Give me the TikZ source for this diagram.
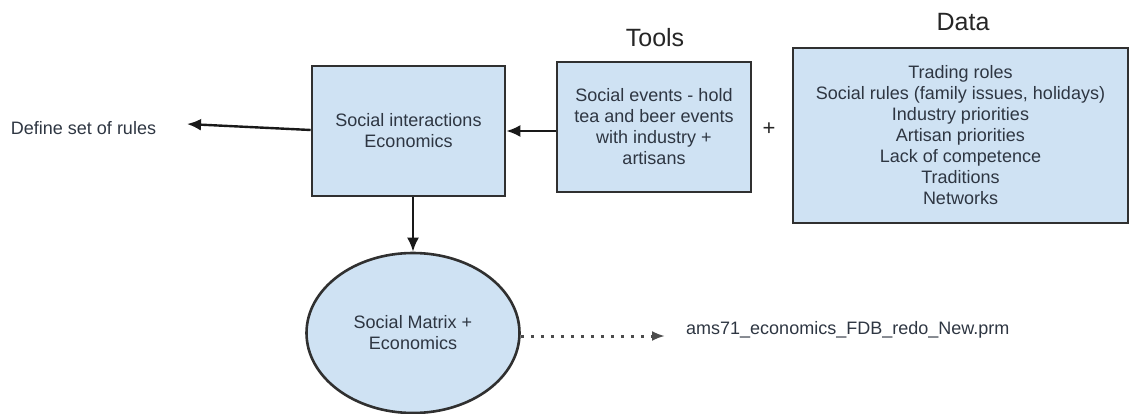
\documentclass[tikz,border=0pt]{standalone}
\usepackage{fontspec}
\setmainfont{Liberation Sans}
\usetikzlibrary{arrows.meta,shapes.geometric}
\definecolor{boxfill}{HTML}{CFE2F3}
\definecolor{boxline}{HTML}{303030}
\definecolor{inktext}{HTML}{2E3642}
\begin{document}
\begin{tikzpicture}[x=1pt,y=-1pt,
  every node/.style={font=\fontsize{18}{21}\selectfont, text=inktext},
  panel/.style={draw=boxline, line width=2.6pt, fill=boxfill, align=center, inner sep=0pt},
  heading/.style={font=\fontsize{25}{29}\selectfont, text=black!85},
  link/.style={draw=black!90, line width=2.4pt, -{Latex[length=14pt,width=12pt]}},
  dotlink/.style={draw=black!70, line width=3pt, dash pattern=on 3pt off 7pt,
    -{Latex[length=13pt,width=10pt]}}]
\useasboundingbox (0,0) rectangle (1130,414);

% main boxes
\node[panel, minimum width=193pt, minimum height=130pt] (social) at (408.5,131)
  {Social interactions\\Economics};
\node[panel, minimum width=194pt, minimum height=130pt] (tools) at (654,127)
  {Social events - hold\\tea and beer events\\with industry +\\artisans};
\node[panel, minimum width=335pt, minimum height=175pt] (data) at (960.5,135.5)
  {Trading roles\\Social rules (family issues, holidays)\\Industry priorities\\Artisan priorities\\Lack of competence\\Traditions\\Networks};
\node[panel, ellipse, minimum width=213pt, minimum height=160pt] (matrix) at (413,333)
  {Social Matrix +\\Economics};

% headings and free labels
\node[heading] (toolshead) at (655,38) {Tools};
\node[heading] (datahead) at (963,22) {Data};
\node[font=\fontsize{22}{26}\selectfont, text=black!85] (plus) at (769,129) {+};
\node (rules) at (83.5,128) {Define set of rules};
\node (prm) [anchor=west, inner sep=0pt] at (686,330) {ams71\_economics\_FDB\_redo\_New.prm};

% loose arrow ends
\coordinate (rulesend) at (187,124);
\coordinate (prmend) at (665,336);

% connectors
\draw[link] (social.west |- 0,130) -- (rulesend);
\draw[link] (tools.west |- 0,131) -- (social.east |- 0,131);
\draw[link] (social.south -| 413,0) -- (matrix.north);
\draw[dotlink] (matrix.east |- 0,336) -- (prmend);
\end{tikzpicture}
\end{document}
